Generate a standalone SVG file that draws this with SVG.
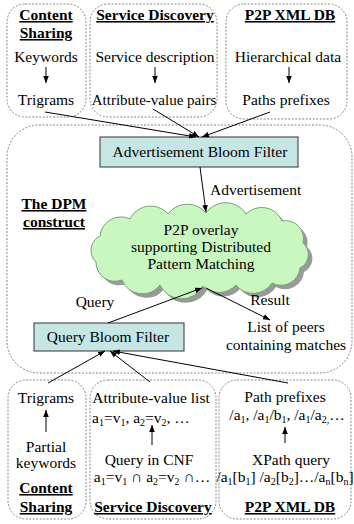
<svg xmlns="http://www.w3.org/2000/svg" width="354" height="524" viewBox="0 0 354 524">
<defs>
<marker id="ah" viewBox="0 0 10 10" refX="10" refY="5" markerWidth="7" markerHeight="7" markerUnits="userSpaceOnUse" orient="auto"><path d="M0,1 L10,5 L0,9 z" fill="#000"/></marker>
<style>
text{font-family:"Liberation Serif","Times New Roman",serif;font-size:15.5px;fill:#000;text-anchor:middle}
.t{font-weight:bold;text-decoration:underline}
.grp{fill:#fff;stroke:#888;stroke-width:1;stroke-dasharray:2 1.5}
.bf{fill:#c6e6e6;stroke:#333;stroke-width:1}
.ln{stroke:#000;stroke-width:1;fill:none;marker-end:url(#ah)}
.s{font-size:10px}
</style>
</defs>
<rect width="354" height="524" fill="#fff"/>

<g id="dpm">
<rect class="grp" x="7" y="125" width="345" height="248" rx="32"/>
<text class="t" x="54" y="209">The DPM</text>
<text class="t" x="54" y="227">construct</text>
</g>

<g id="top-content">
<rect class="grp" x="7" y="4" width="79" height="113" rx="18"/>
<text class="t" x="46" y="20">Content</text>
<text class="t" x="46" y="38">Sharing</text>
<text x="46" y="62">Keywords</text>
<text x="46" y="105">Trigrams</text>
</g>
<g id="top-service">
<rect class="grp" x="90" y="4" width="127" height="113" rx="18"/>
<text class="t" x="155" y="20">Service Discovery</text>
<text x="155" y="62">Service description</text>
<text x="154" y="105" style="font-size:15px">Attribute-value pairs</text>
</g>
<g id="top-xml">
<rect class="grp" x="226" y="4" width="121" height="115" rx="18"/>
<text class="t" x="290" y="20">P2P XML DB</text>
<text x="288" y="62">Hierarchical data</text>
<text x="286" y="105">Paths prefixes</text>
</g>

<g id="adv-bf">
<rect class="bf" x="100" y="137" width="198" height="30"/>
<text x="200" y="157">Advertisement Bloom Filter</text>
</g>

<g id="cloud">
<path transform="translate(4,4)" fill="#999" d="M96,262 A16,16 0 0 1 100,236 A21,21 0 0 1 130,219 A23,23 0 0 1 168,214 A24,24 0 0 1 206,213 A24,24 0 0 1 246,214 A22,22 0 0 1 282,221 A18,18 0 0 1 303,243 A15,15 0 0 1 300,268 A19,19 0 0 1 272,283 A22,22 0 0 1 236,285 A23,23 0 0 1 203,286 A24,24 0 0 1 160,285 A22,22 0 0 1 122,280 A19,19 0 0 1 96,262 Z"/>
<path fill="#c8f7c0" stroke="#7aa07a" stroke-width="1" d="M96,262 A16,16 0 0 1 100,236 A21,21 0 0 1 130,219 A23,23 0 0 1 168,214 A24,24 0 0 1 206,213 A24,24 0 0 1 246,214 A22,22 0 0 1 282,221 A18,18 0 0 1 303,243 A15,15 0 0 1 300,268 A19,19 0 0 1 272,283 A22,22 0 0 1 236,285 A23,23 0 0 1 203,286 A24,24 0 0 1 160,285 A22,22 0 0 1 122,280 A19,19 0 0 1 96,262 Z"/>
<text x="201" y="235">P2P overlay</text>
<text x="201" y="252">supporting Distributed</text>
<text x="201" y="269">Pattern Matching</text>
</g>

<g id="query-bf">
<rect class="bf" x="34" y="323" width="150" height="28"/>
<text x="108" y="342">Query Bloom Filter</text>
</g>

<g id="result-list">
<text x="286" y="332">List of peers</text>
<text x="286" y="350">containing matches</text>
</g>

<g id="bot-content">
<rect class="grp" x="8" y="380" width="78" height="139" rx="18"/>
<text x="46" y="403">Trigrams</text>
<text x="46" y="452">Partial</text>
<text x="46" y="468">keywords</text>
<text class="t" x="46" y="493">Content</text>
<text class="t" x="46" y="512">Sharing</text>
</g>
<g id="bot-service">
<rect class="grp" x="90" y="380" width="126" height="139" rx="18"/>
<text x="151" y="403">Attribute-value list</text>
<text x="92" y="423" style="text-anchor:start">a<tspan class="s" dy="3">1</tspan><tspan dy="-3">=v</tspan><tspan class="s" dy="3">1</tspan><tspan dy="-3">, a</tspan><tspan class="s" dy="3">2</tspan><tspan dy="-3">=v</tspan><tspan class="s" dy="3">2</tspan><tspan dy="-3">, …</tspan></text>
<text x="149" y="465">Query in CNF</text>
<text x="152" y="482">a<tspan class="s" dy="3">1</tspan><tspan dy="-3">=v</tspan><tspan class="s" dy="3">1</tspan><tspan dy="-3"> ∩ a</tspan><tspan class="s" dy="3">2</tspan><tspan dy="-3">=v</tspan><tspan class="s" dy="3">2</tspan><tspan dy="-3"> ∩…</tspan></text>
<text class="t" x="153" y="512">Service Discovery</text>
</g>
<g id="bot-xml">
<rect class="grp" x="219" y="380" width="132" height="139" rx="18"/>
<text x="285" y="402">Path prefixes</text>
<text x="287" y="420">/a<tspan class="s" dy="3">1</tspan><tspan dy="-3">, /a</tspan><tspan class="s" dy="3">1</tspan><tspan dy="-3">/b</tspan><tspan class="s" dy="3">1</tspan><tspan dy="-3">, /a</tspan><tspan class="s" dy="3">1</tspan><tspan dy="-3">/a</tspan><tspan class="s" dy="3">2,</tspan><tspan dy="-3">…</tspan></text>
<text x="291" y="465">XPath query</text>
<text x="285" y="482">/a<tspan class="s" dy="3">1</tspan><tspan dy="-3">[b</tspan><tspan class="s" dy="3">1</tspan><tspan dy="-3">] /a</tspan><tspan class="s" dy="3">2</tspan><tspan dy="-3">[b</tspan><tspan class="s" dy="3">2</tspan><tspan dy="-3">]…/a</tspan><tspan class="s" dy="3">n</tspan><tspan dy="-3">[b</tspan><tspan class="s" dy="3">n</tspan><tspan dy="-3">]</tspan></text>
<text class="t" x="290" y="512">P2P XML DB</text>
</g>

<g id="connectors">
<line class="ln" x1="46" y1="67" x2="46" y2="83"/>
<line class="ln" x1="155" y1="67" x2="155" y2="83"/>
<line class="ln" x1="289" y1="67" x2="289" y2="83"/>
<line class="ln" x1="45" y1="112" x2="196" y2="137"/>
<line class="ln" x1="153" y1="109" x2="199" y2="137"/>
<line class="ln" x1="270" y1="112" x2="202" y2="137"/>
<line class="ln" x1="200" y1="167" x2="206" y2="212"/>
<text x="210" y="195" style="text-anchor:start">Advertisement</text>
<line class="ln" x1="108" y1="323" x2="202" y2="288"/>
<text x="95" y="307">Query</text>
<line class="ln" x1="206" y1="288" x2="270" y2="320"/>
<text x="270" y="305">Result</text>
<line class="ln" x1="48" y1="383" x2="105" y2="351"/>
<line class="ln" x1="150" y1="382" x2="110" y2="351"/>
<line class="ln" x1="288" y1="383" x2="113" y2="351"/>
<line class="ln" x1="46" y1="432" x2="46" y2="410"/>
<line class="ln" x1="152" y1="445" x2="152" y2="425"/>
<line class="ln" x1="285" y1="443" x2="285" y2="427"/>
</g>
</svg>
